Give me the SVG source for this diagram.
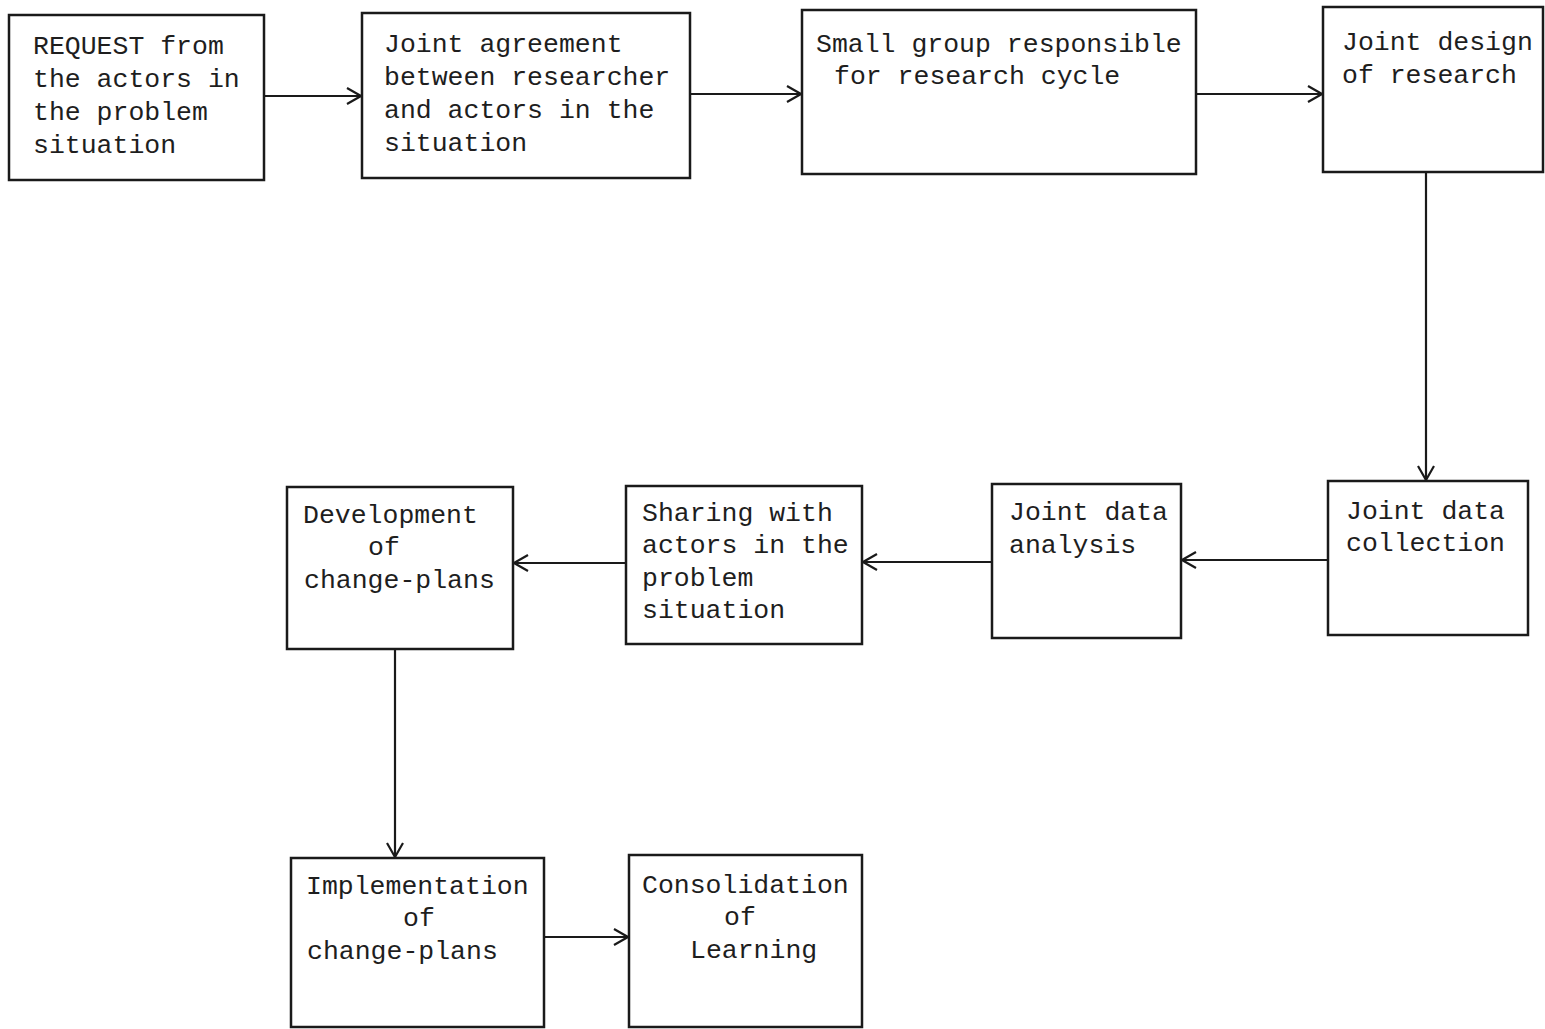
<svg xmlns="http://www.w3.org/2000/svg" width="1545" height="1029" viewBox="0 0 1545 1029">
<style>
  .box { fill: #ffffff; stroke: #1a1a1a; stroke-width: 2.5; }
  .lbl { font-family: "Liberation Mono", "Courier New", monospace; font-size: 26.5px; fill: #1e1e1e; }
  .con { stroke: #1a1a1a; stroke-width: 2.2; fill: none; marker-end: url(#arr); }
</style>
<defs>
  <marker id="arr" viewBox="0 0 16 20" refX="15" refY="10" markerWidth="16" markerHeight="20" markerUnits="userSpaceOnUse" orient="auto">
    <path d="M1,2 L15,10 L1,18" fill="none" stroke="#1a1a1a" stroke-width="2.2"/>
  </marker>
</defs>
<rect width="1545" height="1029" fill="#ffffff"/>

<g id="connectors">
  <line class="con" x1="264" y1="96" x2="361" y2="96"/>
  <line class="con" x1="690" y1="94" x2="801" y2="94"/>
  <line class="con" x1="1196" y1="94" x2="1322" y2="94"/>
  <line class="con" x1="1426" y1="172" x2="1426" y2="480"/>
  <line class="con" x1="1328" y1="560" x2="1182" y2="560"/>
  <line class="con" x1="992" y1="562" x2="863" y2="562"/>
  <line class="con" x1="626" y1="563" x2="514" y2="563"/>
  <line class="con" x1="395" y1="649" x2="395" y2="857"/>
  <line class="con" x1="544" y1="937" x2="628" y2="937"/>
</g>

<g id="n1">
  <rect class="box" x="9" y="15" width="255" height="165"/>
  <text class="lbl" x="33" y="54">REQUEST from</text>
  <text class="lbl" x="33" y="87">the actors in</text>
  <text class="lbl" x="33" y="120">the problem</text>
  <text class="lbl" x="33" y="153">situation</text>
</g>

<g id="n2">
  <rect class="box" x="362" y="13" width="328" height="165"/>
  <text class="lbl" x="384" y="52">Joint agreement</text>
  <text class="lbl" x="384" y="85">between researcher</text>
  <text class="lbl" x="384" y="118">and actors in the</text>
  <text class="lbl" x="384" y="151">situation</text>
</g>

<g id="n3">
  <rect class="box" x="802" y="10" width="394" height="164"/>
  <text class="lbl" x="816" y="52">Small group responsible</text>
  <text class="lbl" x="834" y="84">for research cycle</text>
</g>

<g id="n4">
  <rect class="box" x="1323" y="7" width="220" height="165"/>
  <text class="lbl" x="1342" y="50">Joint design</text>
  <text class="lbl" x="1342" y="83">of research</text>
</g>

<g id="n5">
  <rect class="box" x="1328" y="481" width="200" height="154"/>
  <text class="lbl" x="1346" y="519">Joint data</text>
  <text class="lbl" x="1346" y="551">collection</text>
</g>

<g id="n6">
  <rect class="box" x="992" y="484" width="189" height="154"/>
  <text class="lbl" x="1009" y="520">Joint data</text>
  <text class="lbl" x="1009" y="553">analysis</text>
</g>

<g id="n7">
  <rect class="box" x="626" y="486" width="236" height="158"/>
  <text class="lbl" x="642" y="521">Sharing with</text>
  <text class="lbl" x="642" y="553">actors in the</text>
  <text class="lbl" x="642" y="586">problem</text>
  <text class="lbl" x="642" y="618">situation</text>
</g>

<g id="n8">
  <rect class="box" x="287" y="487" width="226" height="162"/>
  <text class="lbl" x="303" y="523">Development</text>
  <text class="lbl" x="368" y="555">of</text>
  <text class="lbl" x="304" y="588">change-plans</text>
</g>

<g id="n9">
  <rect class="box" x="291" y="858" width="253" height="169"/>
  <text class="lbl" x="306" y="894">Implementation</text>
  <text class="lbl" x="403" y="926">of</text>
  <text class="lbl" x="307" y="959">change-plans</text>
</g>

<g id="n10">
  <rect class="box" x="629" y="855" width="233" height="172"/>
  <text class="lbl" x="642" y="893">Consolidation</text>
  <text class="lbl" x="724" y="925">of</text>
  <text class="lbl" x="690" y="958">Learning</text>
</g>
</svg>
